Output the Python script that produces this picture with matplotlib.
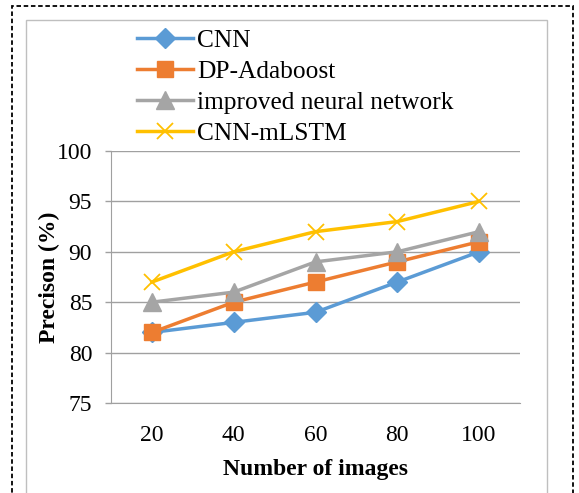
import matplotlib
matplotlib.use("Agg")
import matplotlib.pyplot as plt
from matplotlib.patches import Rectangle

plt.rcParams['font.family'] = ['Liberation Serif', 'DejaVu Serif']

categories = ["20", "40", "60", "80", "100"]
cnn = [82, 83, 84, 87, 90]
dp_adaboost = [82, 85, 87, 89, 91]
improved_nn = [85, 86, 89, 90, 92]
cnn_mlstm = [87, 90, 92, 93, 95]
y_ticks = [75, 80, 85, 90, 95, 100]

W, H = 579, 493
fig = plt.figure(figsize=(W / 100, H / 100), dpi=100)

# outer dashed frame and inner chart frame (pixel coords -> figure fraction)
def px_rect(x0, y0, x1, y1, **kw):
    return Rectangle((x0 / W, 1 - y1 / H), (x1 - x0) / W, (y1 - y0) / H,
                     transform=fig.transFigure, fill=False, **kw)

fig.add_artist(px_rect(12, 6, 573, 500, edgecolor='black', linewidth=1.3,
                       linestyle=(0, (2.5, 1.5))))
fig.add_artist(px_rect(26, 20, 547, 500, edgecolor='#BFBFBF', linewidth=1.0))

ax = fig.add_axes([111 / W, 1 - 403 / H, (520 - 111) / W, (403 - 151) / H])

x = list(range(len(categories)))
ax.plot(x, cnn, color='#5B9BD5', lw=2.5, marker='D', ms=10, label='CNN')
ax.plot(x, dp_adaboost, color='#ED7D31', lw=2.5, marker='s', ms=12, label='DP-Adaboost')
ax.plot(x, improved_nn, color='#A5A5A5', lw=2.5, marker='^', ms=13, label='improved neural network')
ax.plot(x, cnn_mlstm, color='#FFC000', lw=2.5, marker='x', ms=12, mew=1.3, label='CNN-mLSTM')

ax.set_xlim(-0.5, len(categories) - 0.5)
ax.set_ylim(75, 100)
ax.set_xticks(x)
ax.set_xticklabels(categories, fontsize=17)
ax.set_yticks(y_ticks)
ax.set_yticklabels([str(v) for v in y_ticks], fontsize=17)
ax.tick_params(axis='x', length=0, pad=15.5)
ax.tick_params(axis='y', length=4.5, color='#A0A0A0', width=1.0, pad=9)

ax.grid(axis='y', color='#A0A0A0', linewidth=1.0)
ax.set_axisbelow(True)
for s in ['top', 'right']:
    ax.spines[s].set_visible(False)
ax.spines['left'].set_color('#A0A0A0')
ax.spines['bottom'].set_color('#A0A0A0')

ax.set_xlabel('Number of images', fontsize=17, fontweight='bold', labelpad=10)
ax.set_ylabel('Precison (%)', fontsize=17, fontweight='bold', labelpad=-2)

fig.legend(loc='upper left', bbox_to_anchor=(137 / W, 1 - 29 / H), frameon=False,
           fontsize=18.3, handlelength=2.2, handletextpad=0.17, labelspacing=0.32,
           borderpad=0, borderaxespad=0)

fig.savefig('out.png', dpi=100)
